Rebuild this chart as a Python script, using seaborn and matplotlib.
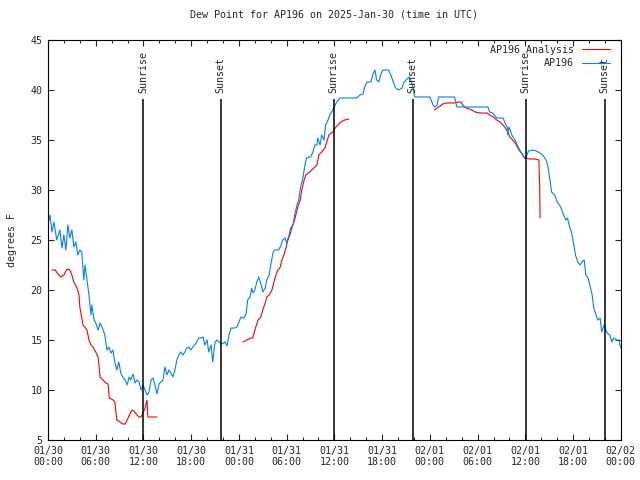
import pandas as pd
import matplotlib
matplotlib.use("Agg")
import matplotlib.pyplot as plt
import matplotlib.dates as mdates
from matplotlib.lines import Line2D
import seaborn as sns

# hours since 2025-01-30 00:00 UTC
obs_hours = [
    0.0, 0.25, 0.5, 0.75, 1.1, 1.5, 1.75, 2.0, 2.25, 2.5, 2.75, 3.0, 3.25, 3.5, 3.75, 4.0,
    4.25, 4.5, 4.65, 4.9, 5.15, 5.4, 5.5, 5.8, 6.0, 6.3, 6.55, 6.8, 7.15, 7.4, 7.65, 7.9,
    8.15, 8.4, 8.65, 8.9, 9.15, 9.4, 9.7, 9.95, 10.2, 10.4, 10.7, 10.95, 11.2, 11.45, 11.7,
    11.95, 12.2, 12.45, 12.7, 12.95, 13.2, 13.45, 13.7, 13.95, 14.2, 14.45, 14.7, 14.95,
    15.2, 15.45, 15.7, 15.95, 16.2, 16.45, 16.7, 16.95, 17.2, 17.45, 17.7, 17.95, 18.2,
    18.45, 18.7, 18.95, 19.2, 19.5, 19.7, 20.0, 20.2, 20.5, 20.7, 21.0, 21.25, 21.5, 21.85,
    22.25, 22.5, 22.75, 23.0, 23.5, 23.75, 24.0, 24.25, 24.6, 24.9, 25.1, 25.4, 25.6, 25.75,
    26.0, 26.25, 26.5, 26.8, 27.0, 27.3, 27.5, 27.8, 28.0, 28.3, 28.5, 29.0, 29.3, 29.5,
    29.8, 30.0, 30.3, 30.5, 30.8, 31.0, 31.3, 31.5, 31.8, 32.0, 32.3, 32.5, 32.8, 33.0,
    33.3, 33.55, 33.8, 33.9, 34.2, 34.4, 34.7, 34.9, 35.2, 35.4, 35.8, 36.1, 36.3, 36.7,
    37.9, 38.8, 39.2, 39.6, 39.8, 40.1, 40.6, 40.8, 41.1, 41.3, 41.6, 41.8, 42.1, 42.8,
    43.1, 43.4, 43.7, 44.1, 44.5, 44.7, 45.0, 45.4, 45.6, 45.9, 46.1, 46.7, 47.4, 48.0,
    48.4, 48.6, 48.9, 49.1, 49.9, 50.5, 51.1, 51.4, 52.4, 53.7, 54.9, 55.3, 55.5, 55.9,
    56.4, 57.2, 57.4, 57.7, 57.8, 57.9, 58.1, 58.3, 58.7, 59.1, 59.3, 59.7, 59.9, 60.2,
    60.4, 60.9, 61.4, 61.8, 62.2, 62.6, 62.8, 63.1, 63.3, 63.7, 64.0, 64.3, 64.6, 64.8,
    65.1, 65.3, 65.6, 65.8, 66.1, 66.3, 66.6, 66.9, 67.1, 67.4, 67.6, 67.9, 68.1, 68.4,
    68.6, 68.9, 69.1, 69.4, 69.6, 69.9, 70.1, 70.4, 70.6, 70.9, 71.1, 71.5, 71.75, 72.0,
]
obs_dewpt = [
    26.5, 27.5, 25.8, 26.8, 25.0, 26.0, 24.2, 25.5, 24.0, 26.5, 25.2, 26.0, 24.3, 24.8, 23.5, 24.0,
    23.8, 21.0, 22.5, 21.0, 19.5, 17.5, 18.5, 17.0, 16.7, 16.0, 16.7, 16.3, 15.5, 14.0, 14.3, 13.7,
    14.0, 12.8, 12.0, 12.8, 11.7, 11.3, 11.0, 10.5, 11.3, 11.0, 11.6, 10.7, 11.0, 10.8, 10.0,
    10.5, 10.0, 9.5, 9.8, 11.0, 11.2, 10.5, 9.6, 10.6, 10.8, 11.0, 12.3, 11.5,
    12.0, 11.7, 11.3, 12.0, 13.0, 13.5, 13.8, 13.5, 13.8, 14.2, 14.3, 14.0, 14.3,
    14.5, 14.8, 15.2, 15.2, 15.3, 14.5, 15.0, 13.8, 14.5, 12.8, 14.8, 15.0, 14.8, 14.6,
    14.8, 14.4, 15.5, 16.2, 16.2, 16.3, 16.8, 17.3, 17.2, 17.6, 19.0, 19.3, 20.2, 19.7,
    20.0, 20.8, 21.3, 20.5, 19.8, 20.2, 21.0, 21.5, 22.5, 23.8, 24.0, 24.0, 24.5, 25.0,
    25.2, 24.7, 25.5, 26.2, 26.5, 27.5, 28.5, 29.0, 30.5, 31.0, 32.5, 33.2, 33.3, 33.3,
    33.8, 34.5, 34.5, 35.2, 34.5, 35.5, 35.0, 36.5, 37.0, 37.5, 38.0, 38.5, 38.8, 39.2,
    39.2, 39.2, 39.5, 39.6, 40.3, 40.8, 40.8, 41.5, 42.0, 41.0, 40.8, 41.5, 42.0, 42.0,
    41.5, 40.8, 40.2, 40.0, 40.2, 40.7, 41.0, 41.3, 41.0, 40.2, 39.3, 39.3, 39.3, 39.3,
    38.5, 38.3, 38.5, 39.3, 39.3, 39.3, 39.3, 38.3, 38.3, 38.3, 38.3, 38.3, 37.8, 37.7,
    37.2, 37.2, 36.8, 36.3, 35.5, 36.3, 36.0, 35.5, 35.0, 34.3, 34.0, 33.5, 33.2, 33.5,
    33.9, 34.0, 33.9, 33.7, 33.5, 33.0, 32.5, 31.0, 29.8, 29.5, 28.8, 28.5, 28.0, 27.5,
    27.0, 27.2, 26.2, 25.8, 24.5, 23.5, 22.8, 22.5, 22.8, 23.0, 21.5, 21.2, 20.5, 19.5,
    18.2, 17.5, 17.0, 17.2, 15.8, 16.5, 16.0, 15.6, 15.5, 14.8, 15.2, 15.0, 15.0, 14.2,
]

# analysis series, three separate runs
ana_hours_1 = [
    0.5, 0.9, 1.25, 1.6, 2.0, 2.4, 2.75, 3.0, 3.25, 3.65, 3.9, 4.0, 4.3, 4.4, 4.9, 5.15,
    5.4, 5.65, 6.0, 6.3, 6.55, 6.9, 7.3, 7.55, 7.7, 8.2, 8.4, 8.65, 9.05, 9.4, 9.7, 9.95,
    10.3, 10.55, 10.8, 11.2, 11.45, 11.7, 11.95, 12.2, 12.45, 12.55, 13.05, 13.7,
]
ana_dewpt_1 = [
    22.0, 22.0, 21.6, 21.3, 21.5, 22.1, 22.0, 21.5, 20.8, 20.2, 19.5, 18.3, 17.0, 16.5, 16.0, 15.0,
    14.5, 14.3, 13.8, 13.3, 11.3, 11.0, 10.7, 10.6, 9.2, 9.0, 8.8, 7.0, 6.8, 6.6, 6.6, 7.0,
    7.6, 8.0, 7.9, 7.5, 7.3, 7.3, 7.7, 8.2, 9.0, 7.3, 7.3, 7.3,
]
ana_hours_2 = [
    24.5, 25.0, 25.5, 25.75, 26.0, 26.4, 26.75, 27.0, 27.3, 27.5, 27.8, 28.15, 28.4, 28.65,
    28.9, 29.15, 29.4, 29.65, 29.9, 30.15, 30.4, 30.65, 31.0, 31.4, 31.7, 31.9, 32.2, 32.4,
    32.9, 33.55, 33.8, 34.05, 34.4, 34.8, 35.05, 35.3, 35.8, 36.2, 36.45, 36.8, 37.3, 37.8,
]
ana_dewpt_2 = [
    14.8, 15.0, 15.2, 15.2, 16.0, 17.0, 17.3, 18.0, 18.7, 19.3, 19.5, 20.0, 20.8, 21.5,
    22.0, 22.2, 23.0, 23.5, 24.2, 25.0, 25.5, 26.2, 27.0, 28.3, 29.0, 30.0, 31.0, 31.5,
    31.8, 32.3, 32.5, 33.5, 33.8, 34.2, 34.8, 35.5, 35.8, 36.3, 36.5, 36.8, 37.0, 37.1,
]
ana_hours_3 = [
    48.6, 48.9, 49.3, 49.6, 50.1, 51.1, 51.5, 51.9, 52.15, 52.5, 53.0, 53.7, 54.3, 55.2,
    55.5, 56.0, 56.4, 56.8, 57.2, 57.4, 57.8, 58.05, 58.4, 58.8, 59.2, 59.6, 59.9, 60.6,
    61.2, 61.7, 61.8, 61.85,
]
ana_dewpt_3 = [
    38.0, 38.2, 38.4, 38.6, 38.7, 38.7, 38.8, 38.8, 38.5, 38.2, 38.1, 37.8, 37.7, 37.7,
    37.5, 37.3, 37.0, 36.8, 36.5, 36.3, 35.8, 35.3, 35.0, 34.6, 34.0, 33.6, 33.2, 33.1,
    33.1, 33.0, 30.5, 27.2,
]

sun_hours = [11.93, 21.7, 35.9, 45.85, 60.05, 69.97]
sun_labels = ["Sunrise", "Sunset", "Sunrise", "Sunset", "Sunrise", "Sunset"]

base = pd.Timestamp("2025-01-30 00:00")


def to_time(hours):
    return base + pd.to_timedelta(hours, unit="h")


obs = pd.DataFrame({"time": to_time(obs_hours), "dewpt": obs_dewpt})
ana = pd.concat([
    pd.DataFrame({"time": to_time(h), "dewpt": d, "seg": i})
    for i, (h, d) in enumerate([(ana_hours_1, ana_dewpt_1),
                                (ana_hours_2, ana_dewpt_2),
                                (ana_hours_3, ana_dewpt_3)])
])

sns.set_style("ticks")
plt.rcParams["font.family"] = ["DejaVu Sans Mono"]
plt.rcParams["font.size"] = 7.2

red = "#ff0000"
blue = "#0080ff"

fig = plt.figure(figsize=(6.4, 4.8), dpi=100)
ax = fig.add_axes([0.075, 0.0833, 0.895, 0.8334])

sns.lineplot(data=ana, x="time", y="dewpt", units="seg", estimator=None,
             color=red, lw=0.8, ax=ax, legend=False)
sns.lineplot(data=obs, x="time", y="dewpt", color=blue, lw=0.8, ax=ax, legend=False)

sun_times = to_time(sun_hours)
ax.vlines(sun_times, 5, 39.1, color="black", lw=1.1)
for t, lab in zip(sun_times, sun_labels):
    ax.text(t, 39.7, lab, rotation=90, ha="center", va="bottom", fontsize=7.2)

ax.set_xlim(to_time(0.0), to_time(72.0))
ax.set_ylim(5, 45)
ax.set_yticks(range(5, 46, 5))
ax.xaxis.set_major_locator(mdates.HourLocator(byhour=[0, 6, 12, 18]))
ax.xaxis.set_minor_locator(mdates.HourLocator(byhour=range(0, 24, 2)))
ax.xaxis.set_major_formatter(mdates.DateFormatter("%m/%d\n%H:%M"))
ax.tick_params(axis="both", which="major", direction="in", length=4.5, width=0.8,
               top=True, right=True, labelsize=7.2, pad=4)
ax.tick_params(axis="x", which="minor", direction="in", length=2.5, width=0.8, top=True)
for s in ax.spines.values():
    s.set_linewidth(0.8)
    s.set_color("black")

ax.set_xlabel("")
ax.set_ylabel("degrees F", fontsize=7.2, labelpad=10)
ax.set_title("Dew Point for AP196 on 2025-Jan-30 (time in UTC)", fontsize=7.2, pad=16)

handles = [Line2D([], [], color=red, lw=0.8), Line2D([], [], color=blue, lw=0.8)]
ax.legend(handles, ["AP196 Analysis", "AP196"], loc="upper right",
          bbox_to_anchor=(0.988, 0.998), frameon=False, markerfirst=False,
          handlelength=2.8, handletextpad=0.8, labelspacing=0.35,
          borderaxespad=0.0, fontsize=7.2)

fig.savefig("out.png", dpi=100)
